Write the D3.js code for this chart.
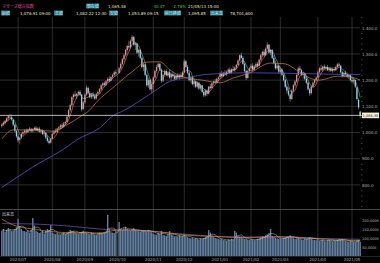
<!DOCTYPE html>
<html>
<head>
<meta charset="utf-8">
<script src="https://cdn.jsdelivr.net/npm/d3@7"></script>
<style>
html, body { margin: 0; padding: 0; background: #000; }
svg { display: block; }
text { font-family: "DejaVu Sans", "Noto Sans CJK JP", sans-serif; }
.jp { font-family: "Noto Sans CJK JP", sans-serif; }
</style>
</head>
<body>
<div id="chart"></div>
<script>
// month labels and the index of the first trading day of each month
const monthLabels = ["2020/07", "2020/08", "2020/09", "2020/10", "2020/11", "2020/12",
    "2021/01", "2021/02", "2021/03", "2021/04", "2021/05"];
const monthStart = [10, 31, 51, 71, 93, 112, 134, 153, 171, 194, 215];

// daily candles, 2020/06/17 .. 2021/05/13 (index 71 = 2020/10/01, no trading)
const open = [
1025,1030,1036,1044,1055,1060,1058,1048,1030,1005,
985,972,980,995,1000,1008,1002,1010,1014,1005,
1012,1018,1008,1015,1003,1008,995,998,980,968,
962,978,995,1005,1002,1015,1020,1028,1022,1035,
1040,1060,1085,1105,1135,1145,1140,1148,1155,1145,
1090,1115,1145,1170,1150,1135,1145,1138,1130,1148,
1155,1165,1180,1188,1182,1196,1205,1198,1212,1220,
1230,null,1228,1245,1262,1280,1295,1315,1330,1325,
1350,1365,1335,1340,1305,1315,1285,1250,1260,1220,
1180,1200,1165,1185,1210,1235,1250,1262,1240,1198,
1220,1235,1218,1230,1210,1222,1215,1205,1218,1210,
1220,1212,1230,1272,1250,1228,1200,1210,1185,1195,
1175,1190,1168,1180,1155,1142,1160,1148,1175,1170,
1188,1195,1190,1205,1212,1225,1215,1228,1222,1232,
1240,1228,1242,1238,1248,1258,1275,1295,1285,1262,
1235,1208,1235,1245,1255,1240,1252,1262,1255,1278,
1295,1308,1295,1320,1335,1305,1315,1285,1265,1245,
1255,1232,1240,1220,1200,1175,1160,1145,1128,1160,
1180,1195,1220,1245,1238,1220,1225,1205,1190,1165,
1150,1175,1190,1200,1210,1230,1245,1240,1252,1245,
1250,1238,1245,1235,1242,1238,1250,1260,1255,1230,
1215,1228,1220,1212,1218,1200,1195,1200,1172,1125,
1076.91];
const high = [
1035,1042,1048,1058,1066,1070,1068,1052,1035,1010,
995,985,1000,1008,1012,1015,1015,1020,1018,1016,
1022,1025,1020,1022,1012,1012,1005,1002,988,975,
980,1000,1010,1015,1018,1025,1032,1035,1040,1045,
1065,1090,1110,1140,1150,1158,1150,1160,1162,1148,
1120,1150,1180,1175,1158,1150,1155,1148,1150,1160,
1170,1185,1192,1195,1200,1210,1215,1215,1225,1235,
1240,null,1250,1268,1285,1300,1320,1335,1350,1355,
1372,1368,1345,1342,1320,1318,1290,1268,1262,1225,
1210,1205,1190,1215,1240,1258,1268,1265,1245,1225,
1240,1242,1235,1238,1228,1232,1225,1222,1228,1225,
1230,1235,1280,1278,1258,1235,1215,1212,1200,1198,
1195,1192,1185,1182,1162,1165,1165,1178,1185,1192,
1198,1205,1210,1215,1230,1235,1232,1238,1236,1245,
1248,1245,1255,1252,1262,1280,1298,1305,1292,1268,
1240,1240,1250,1262,1265,1258,1268,1270,1282,1300,
1312,1318,1325,1345,1338,1320,1318,1295,1275,1262,
1258,1248,1245,1228,1205,1185,1172,1150,1165,1185,
1200,1225,1252,1255,1242,1230,1228,1215,1195,1170,
1180,1195,1205,1215,1235,1250,1258,1255,1260,1255,
1258,1250,1252,1248,1250,1255,1265,1268,1258,1235,
1232,1235,1230,1225,1222,1210,1208,1202,1175,1130,
1082.22];
const low = [
1018,1025,1030,1040,1048,1052,1045,1025,1000,980,
962,955,975,988,995,998,998,1005,1000,1000,
1008,1005,1004,1000,995,990,985,975,962,955,
958,975,990,998,1000,1010,1012,1015,1018,1028,
1038,1058,1080,1100,1125,1135,1128,1140,1140,1080,
1085,1110,1140,1145,1130,1128,1130,1125,1125,1140,
1148,1160,1170,1175,1178,1190,1192,1195,1205,1215,
1218,null,1225,1240,1258,1270,1290,1305,1320,1320,
1340,1330,1315,1300,1290,1280,1245,1235,1215,1175,
1170,1160,1150,1155,1205,1228,1245,1235,1190,1192,
1212,1215,1210,1205,1200,1210,1198,1200,1205,1202,
1208,1210,1228,1245,1222,1195,1190,1180,1172,1170,
1168,1162,1160,1150,1135,1138,1140,1145,1165,1168,
1180,1185,1188,1195,1205,1210,1212,1218,1215,1225,
1222,1225,1235,1230,1240,1255,1270,1280,1258,1230,
1200,1205,1228,1240,1235,1236,1245,1248,1252,1272,
1288,1290,1292,1315,1300,1295,1280,1260,1240,1238,
1225,1225,1215,1195,1170,1150,1138,1118,1125,1155,
1172,1190,1215,1232,1215,1205,1200,1185,1160,1140,
1145,1170,1182,1195,1208,1225,1235,1232,1240,1235,
1235,1230,1232,1228,1232,1235,1245,1250,1225,1210,
1210,1215,1208,1205,1195,1190,1185,1170,1122,1090,
1053.89];
const close = [
1030,1038,1045,1055,1062,1058,1050,1030,1005,985,
970,980,995,1002,1008,1003,1012,1015,1005,1012,
1018,1008,1015,1003,1008,995,1000,980,968,960,
975,995,1005,1002,1015,1020,1028,1022,1035,1040,
1060,1085,1105,1135,1145,1140,1148,1155,1145,1088,
1115,1145,1172,1150,1135,1145,1138,1130,1148,1155,
1165,1180,1188,1182,1196,1205,1198,1212,1220,1230,
1225,null,1245,1262,1280,1295,1315,1330,1325,1350,
1365,1335,1340,1305,1315,1285,1250,1260,1220,1180,
1200,1165,1185,1210,1235,1250,1262,1240,1198,1220,
1235,1218,1230,1210,1222,1215,1205,1218,1210,1220,
1212,1230,1272,1250,1228,1200,1210,1185,1195,1175,
1190,1168,1180,1155,1142,1160,1148,1175,1170,1188,
1195,1190,1205,1210,1225,1215,1228,1222,1232,1240,
1228,1242,1238,1248,1258,1275,1295,1285,1262,1235,
1208,1235,1245,1255,1240,1252,1262,1255,1278,1295,
1308,1295,1320,1335,1305,1315,1285,1265,1245,1255,
1232,1240,1220,1200,1175,1160,1145,1128,1160,1180,
1195,1220,1245,1238,1220,1225,1205,1190,1165,1150,
1175,1190,1200,1210,1230,1245,1240,1252,1245,1250,
1238,1245,1235,1242,1238,1250,1260,1255,1230,1215,
1228,1220,1212,1218,1200,1195,1200,1175,1128,1096,
1065.38];

// volume, thousand shares
const volume = [
140,150,135,145,155,148,138,142,150,160,
205,165,150,140,138,135,142,130,145,211,
170,140,135,128,132,138,125,140,150,145,
172,130,125,122,128,120,118,125,130,122,
128,135,145,140,138,132,128,125,130,135,
140,132,128,125,122,130,125,120,118,125,
130,128,125,130,135,228,150,132,130,128,
135,0,189,150,145,155,161,150,145,140,
148,155,145,140,138,135,142,144,140,135,
145,138,132,125,120,118,128,122,139,118,
115,112,120,139,118,115,110,112,108,115,
110,112,118,110,105,100,98,102,95,100,
96,92,98,95,100,105,110,144,130,115,
105,100,98,95,92,95,88,90,85,92,
88,95,90,139,130,110,105,108,100,95,
98,92,90,95,92,88,90,95,98,105,
110,108,115,120,128,150,112,105,100,98,
95,98,95,100,105,110,108,115,105,100,
95,98,102,95,92,90,98,95,100,105,
98,92,90,88,90,85,88,92,85,82,
88,90,85,82,88,85,90,95,92,94,
88,85,82,80,85,82,80,78,85,90,
78.7];

// moving averages: [day index, value]
const ma25 = [[0,975],[7,1010],[17,1010],[31,1005],[40,1029],[48,1060],[54,1086],[58,1115],
    [69,1175],[80,1232],[89,1269],[97,1270],[103,1240],[111,1212],[123,1200],[134,1190],
    [142,1208],[152,1227],[165,1265],[174,1262],[181,1238],[189,1208],[195,1200],[206,1215],
    [214,1212],[220,1200]];
const ma75 = [[0,790],[19,868],[40,945],[46,972],[60,1017],[69,1067],[73,1078],[93,1155],
    [103,1195],[114,1210],[126,1222],[152,1228],[185,1225],[210,1222],[220,1222]];
const volMa25 = [[0,205],[7,172],[19,150],[40,130],[60,128],[72,145],[90,140],[115,115],
    [130,108],[150,102],[170,108],[190,100],[205,90],[220,86]];
const volMa75 = [[0,180],[19,178],[40,167],[60,150],[93,135],[114,120],[135,108],[170,104],
    [200,97],[220,93]];

const priceTicks = [800, 900, 1000, 1100, 1200, 1300, 1400];
const volTicks = [50000, 100000, 150000, 200000];
const lastPrice = 1065.38;

// header
const headTitle = "マザーズ総合指数";
const headRow1 = ["現在値", "1,065.38", "-30.47", "-2.78%", "21/05/13 15:00"];
const headRow2Labels = ["始値", "高値", "安値", "前日終値", "出来高"];
const headRow2Values = ["1,076.91 09:00", "1,082.22 12:30", "1,053.89 09:15", "1,095.85", "78,701,600"];

const svg = d3.select("#chart")
    .append("svg")
    .attr("width", 380)
    .attr("height", 263)
    .style("background", "#000");

const n = close.length;
const x = d3.scaleLinear().domain([-0.5, n - 0.5]).range([1, 361]);
const y = d3.scaleLinear().domain([708, 1441]).range([209, 17]);
const yv = d3.scaleLinear().domain([0, 200000]).range([256, 220]);
const fs = 4;

// grid
svg.append("g").selectAll("line")
    .data(monthStart)
    .enter().append("line")
    .attr("x1", d => x(d)).attr("x2", d => x(d))
    .attr("y1", 17).attr("y2", 256)
    .attr("stroke", "#363636").attr("stroke-width", 0.8);
svg.append("g").selectAll("line")
    .data(priceTicks)
    .enter().append("line")
    .attr("x1", 0).attr("x2", 360)
    .attr("y1", d => y(d)).attr("y2", d => y(d))
    .attr("stroke", "#363636").attr("stroke-width", 0.8);
svg.append("line").attr("x1", 0).attr("x2", 380).attr("y1", 209.5).attr("y2", 209.5)
    .attr("stroke", "#5a5a5a").attr("stroke-width", 0.8);
svg.append("line").attr("x1", 0).attr("x2", 380).attr("y1", 256.5).attr("y2", 256.5)
    .attr("stroke", "#3a3a3a").attr("stroke-width", 0.6);

// price axis
const yAxis = svg.append("g")
    .attr("transform", "translate(361,0)")
    .call(d3.axisRight(y).tickValues(priceTicks).tickSize(0).tickPadding(1).tickFormat(d3.format(",.1f")));
yAxis.select(".domain").remove();
yAxis.selectAll("text").attr("fill", "#b0b0b0").style("font-size", fs + "px");
const minor = svg.append("g")
    .attr("transform", "translate(361,0)")
    .call(d3.axisRight(y).tickValues(d3.range(720, 1441, 20).filter(d => d % 100 != 0)).tickSize(1.5).tickFormat(""));
minor.select(".domain").remove();
minor.selectAll("line").attr("stroke", "#777").attr("stroke-width", 0.5);

// volume axis
const vAxis = svg.append("g")
    .attr("transform", "translate(361,0)")
    .call(d3.axisRight(yv).tickValues(volTicks).tickSize(0).tickPadding(1).tickFormat(d => d3.format(",")(d) + "k"));
vAxis.select(".domain").remove();
vAxis.selectAll("text").attr("fill", "#b0b0b0").style("font-size", "3.6px");

// x labels
svg.append("g").selectAll("text")
    .data(monthLabels)
    .enter().append("text")
    .attr("x", (d, i) => x(monthStart[i]))
    .attr("y", 261)
    .attr("text-anchor", "middle")
    .attr("fill", "#a8a8a8")
    .style("font-size", fs + "px")
    .text(d => d);

// volume bars
const days = d3.range(n);
svg.append("g").selectAll("rect")
    .data(days.filter(i => volume[i] > 0))
    .enter().append("rect")
    .attr("x", i => x(i) - 0.7)
    .attr("width", 1.4)
    .attr("y", i => yv(volume[i] * 1000))
    .attr("height", i => 256 - yv(volume[i] * 1000))
    .attr("fill", "#627f9f");

// volume moving averages
const vol5 = days.map(i => [i, d3.mean(volume.slice(Math.max(0, i - 4), i + 1).filter(v => v > 0))]);
const volLine = d3.line().x(d => x(d[0])).y(d => yv(d[1] * 1000)).curve(d3.curveMonotoneX);
svg.append("path").datum(volMa75).attr("d", volLine).attr("fill", "none").attr("stroke", "#7a58c0").attr("stroke-width", 0.7);
svg.append("path").datum(volMa25).attr("d", volLine).attr("fill", "none").attr("stroke", "#c98a40").attr("stroke-width", 0.7);
svg.append("path").datum(vol5).attr("d", volLine).attr("fill", "none").attr("stroke", "#d8d0a0").attr("stroke-width", 0.5);

svg.append("text").attr("class", "jp").attr("x", 2).attr("y", 215.5)
    .attr("fill", "#d0d0d0").style("font-size", fs + "px").text("出来高");

// candles
const up = "#f28c8c", down = "#84d8ec";
const valid = days.filter(i => close[i] != null);
const candles = svg.append("g").selectAll("g")
    .data(valid)
    .enter().append("g");
candles.append("line")
    .attr("x1", i => x(i)).attr("x2", i => x(i))
    .attr("y1", i => y(high[i])).attr("y2", i => y(low[i]))
    .attr("stroke", i => close[i] >= open[i] ? up : down)
    .attr("stroke-width", 0.5);
candles.append("rect")
    .attr("x", i => x(i) - 0.65)
    .attr("width", 1.3)
    .attr("y", i => y(Math.max(open[i], close[i])))
    .attr("height", i => Math.max(0.6, Math.abs(y(open[i]) - y(close[i]))))
    .attr("fill", i => close[i] >= open[i] ? up : down);

// price moving averages
const priceLine = d3.line().x(d => x(d[0])).y(d => y(d[1])).curve(d3.curveMonotoneX);
const ma5 = valid.map(i => [i, d3.mean(valid.filter(j => j <= i).slice(-5), j => close[j])]);
svg.append("path").datum(ma75).attr("d", priceLine).attr("fill", "none").attr("stroke", "#5b55c8").attr("stroke-width", 0.8);
svg.append("path").datum(ma25).attr("d", priceLine).attr("fill", "none").attr("stroke", "#b8743a").attr("stroke-width", 0.8);
svg.append("path").datum(ma5).attr("d", priceLine).attr("fill", "none").attr("stroke", "#d8c8a0").attr("stroke-width", 0.5);

// last price line and tag
svg.append("line").attr("x1", 0).attr("x2", 361)
    .attr("y1", y(lastPrice)).attr("y2", y(lastPrice))
    .attr("stroke", "#c8c8c8").attr("stroke-width", 0.9);
svg.append("path")
    .attr("d", "M" + x(n - 1) + "," + (y(lastPrice) - 4) + "V" + y(lastPrice) + "H362")
    .attr("fill", "none").attr("stroke", "#f0e040").attr("stroke-width", 0.8);
svg.append("rect").attr("x", 362).attr("y", y(lastPrice) - 2.8).attr("width", 17).attr("height", 5.6)
    .attr("fill", "#f4f2dc");
svg.append("text").attr("x", 362.6).attr("y", y(lastPrice) + 1.3)
    .attr("fill", "#111").style("font-size", "3.5px").text(d3.format(",.2f")(lastPrice));

// header
svg.append("text").attr("class", "jp").attr("x", 2).attr("y", 7.5)
    .attr("fill", "#e24b9c").style("font-size", fs + "px").text(headTitle);

function tag(px, py, w, label) {
    svg.append("rect").attr("x", px).attr("y", py - 4).attr("width", w).attr("height", 5)
        .attr("fill", "#1f7687");
    svg.append("text").attr("class", "jp").attr("x", px + 0.8).attr("y", py)
        .attr("fill", "#c8f4ff").style("font-size", fs + "px").text(label);
}
tag(86, 7.5, 13, headRow1[0]);
svg.append("text").attr("x", 108).attr("y", 7.5).attr("fill", "#e8e070").style("font-size", fs + "px").text(headRow1[1]);
svg.append("text").attr("x", 152).attr("y", 7.5).attr("fill", "#4cc44c").style("font-size", fs + "px").text(headRow1[2]);
svg.append("text").attr("x", 172).attr("y", 7.5).attr("fill", "#4cc44c").style("font-size", fs + "px").text(headRow1[3]);
svg.append("text").attr("x", 188).attr("y", 7.5).attr("fill", "#e8e4b0").style("font-size", fs + "px").text(headRow1[4]);

const tagX = [1, 54, 109, 164, 210];
const tagW = [9, 9, 9, 17, 13];
const valX = [20, 76, 128, 188, 230];
headRow2Labels.forEach((d, i) => {
    tag(tagX[i], 14.5, tagW[i], d);
    svg.append("text").attr("x", valX[i]).attr("y", 14.5)
        .attr("fill", "#ece6c4").style("font-size", fs + "px").text(headRow2Values[i]);
});
</script>
</body>
</html>
